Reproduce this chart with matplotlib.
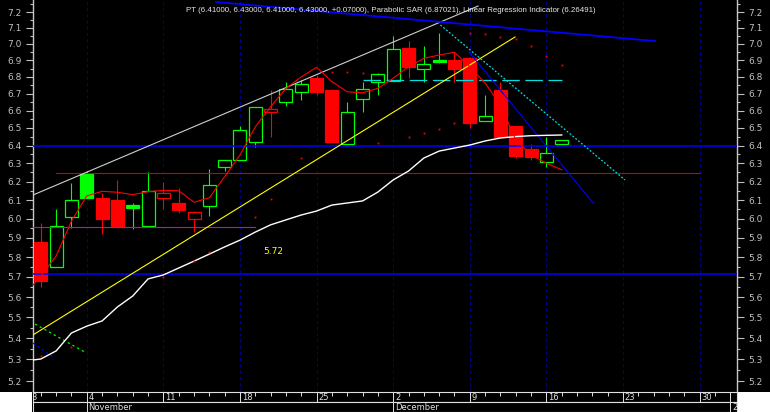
import numpy as np
import matplotlib
matplotlib.use("Agg")
import matplotlib.pyplot as plt
from matplotlib.patches import Rectangle
from matplotlib.ticker import FixedLocator, FixedFormatter, NullFormatter

# ---------------- data ----------------
opens = [5.88, 5.75, 6.01, 6.24, 6.11, 6.10, 6.075, 5.96, 6.11, 6.085, 6.00, 6.07,
         6.28, 6.32, 6.42, 6.59, 6.65, 6.71, 6.79, 6.72, 6.41, 6.67, 6.77, 6.775,
         6.975, 6.845, 6.90, 6.90, 6.915, 6.54, 6.72, 6.51, 6.38, 6.31, 6.41]
highs = [5.98, 6.05, 6.19, 6.26, 6.14, 6.21, 6.085, 6.25, 6.20, 6.165, 6.04, 6.27,
         6.32, 6.51, 6.62, 6.72, 6.77, 6.78, 6.81, 6.72, 6.65, 6.77, 6.82, 7.05,
         7.02, 6.99, 7.07, 6.95, 6.92, 6.69, 6.77, 6.51, 6.41, 6.45, 6.43]
lows = [5.65, 5.75, 5.95, 6.11, 5.92, 5.96, 5.944, 5.96, 6.05, 6.03, 5.93, 6.015,
        6.26, 6.32, 6.39, 6.45, 6.63, 6.66, 6.69, 6.42, 6.41, 6.59, 6.69, 6.775,
        6.79, 6.77, 6.885, 6.77, 6.50, 6.54, 6.45, 6.33, 6.32, 6.28, 6.41]
closes = [5.68, 5.96, 6.10, 6.11, 6.00, 5.96, 6.055, 6.15, 6.14, 6.047, 6.035, 6.18,
          6.32, 6.49, 6.62, 6.61, 6.73, 6.755, 6.71, 6.42, 6.59, 6.73, 6.815, 6.97,
          6.86, 6.88, 6.89, 6.85, 6.53, 6.57, 6.45, 6.34, 6.335, 6.36, 6.43]

# Linear regression indicator (index -1 .. 34)
lri = [5.615, 5.705, 5.806, 5.988, 6.122, 6.147, 6.142, 6.129, 6.145, 6.152, 6.150,
       6.088, 6.112, 6.227, 6.347, 6.507, 6.623, 6.731, 6.800, 6.857, 6.771, 6.711,
       6.705, 6.731, 6.791, 6.861, 6.912, 6.932, 6.949, 6.861, 6.762, 6.633, 6.432,
       6.347, 6.301, 6.265]
# long moving average (index -1 .. 34)
mavg = [5.293, 5.302, 5.340, 5.425, 5.458, 5.483, 5.551, 5.605, 5.690, 5.710, 5.745,
        5.780, 5.816, 5.853, 5.888, 5.930, 5.968, 5.994, 6.020, 6.041, 6.073, 6.084,
        6.095, 6.143, 6.209, 6.258, 6.330, 6.369, 6.386, 6.403, 6.426, 6.443, 6.451,
        6.456, 6.458, 6.460]
# Parabolic SAR dots (visible ones, nan where hidden)
nan = np.nan
sar = [5.316, nan, 5.360, nan, nan, nan, nan, nan, 5.698, nan, 5.782, 5.827, nan, nan,
       6.007, 6.104, nan, 6.329, nan, 6.831, 6.831, 6.821, 6.413, nan, 6.448, 6.471,
       6.494, 6.529, 7.070, 7.062, 7.045, 7.029, 6.988, 6.926, 6.870]

# drawn study lines: (index, price) endpoints
white_trend = ([-0.51, 28.54], [6.127, 7.238])
yellow_trend = ([-0.51, 30.95], [5.416, 7.043])
blue_top = ([11.44, 40.09], [7.264, 7.018])
cyan_diag = ([26.08, 38.13], [7.118, 6.209])
blue_diag = ([27.95, 36.05], [6.950, 6.084])
green_dot = ([-0.38, 2.885], [5.468, 5.334])
blue_dot = ([-0.51, 0.796], [5.377, 5.311])
cyan_h = ([21.03, 34.02], [6.781, 6.781])
red_h = ([0.99, 43.03], [6.245, 6.245])
mag_h = ([-0.51, 13.98], [5.955, 5.955])
blue_levels = [6.40, 5.715]

week_idx = [3, 8, 13, 18, 23, 28, 33, 38, 43]
week_lab = ["4", "11", "18", "25", "2", "9", "16", "23", "30"]
month_idx = [3, 23, 45]
month_lab = ["November", "December", "20"]

title = ("PT (6.41000, 6.43000, 6.41000, 6.43000, +0.07000), Parabolic SAR (6.87021), "
         "Linear Regression Indicator (6.26491)")

# ---------------- figure ----------------
W, H = 770, 412
L, R = 33, 737
fig = plt.figure(figsize=(W / 100, H / 100), dpi=100, facecolor="black")
ax = fig.add_axes([L / W, 20 / H, (R - L) / W, 392 / H], facecolor="black")
xlim = (-0.51, 45.44)
ax.set_xlim(*xlim)
ax.set_yscale("log")
ax.set_ylim(5.150, 7.2766)

major = np.round(np.arange(5.2, 7.21, 0.1), 2)
minor = np.round(np.arange(5.25, 7.3, 0.1), 2)
ax.yaxis.set_major_locator(FixedLocator(major))
ax.yaxis.set_major_formatter(FixedFormatter([f"{v:.1f}" for v in major]))
ax.yaxis.set_minor_locator(FixedLocator(minor))
ax.yaxis.set_minor_formatter(NullFormatter())
ax.set_xticks([])
ax.tick_params(axis="y", which="both", left=True, right=True, labelleft=True,
               labelright=True, colors="#c0c0c0", labelsize=6.5, width=0.8)
ax.tick_params(axis="y", which="major", length=5, pad=3)
ax.tick_params(axis="y", which="minor", length=2.2)
for s in ["top", "bottom"]:
    ax.spines[s].set_visible(False)
for s in ["left", "right"]:
    ax.spines[s].set_color("#c8c8c8")
    ax.spines[s].set_linewidth(1.0)

for m in week_idx:
    ax.axvline(m, color="#00008c", lw=0.75, ls=(0, (3, 3)), zorder=0.5)

# candles
w = 0.85
for i in range(len(closes)):
    o, h, l, c = opens[i], highs[i], lows[i], closes[i]
    up_vs_prev = (c >= closes[i - 1]) if i > 0 else (c >= o)
    col = "#00ff00" if up_vs_prev else "#ff0000"
    filled = c < o
    ax.vlines(i, l, h, color=col, lw=0.8, zorder=2)
    lo, hi = min(o, c), max(o, c)
    ax.add_patch(Rectangle((i - w / 2, lo), w, hi - lo,
                           facecolor=col if filled else "black",
                           edgecolor=col, lw=0.9, zorder=3))

idx_ext = np.arange(-1, len(closes))
idx = np.arange(len(closes))

# horizontal study lines
for lv in blue_levels:
    ax.axhline(lv, color="#0000ff", lw=1.1, zorder=4)
ax.plot(*red_h, color="#d00000", lw=0.8, zorder=4)
ax.plot(*mag_h, color="#d000d0", lw=0.8, zorder=4)
ax.plot(*cyan_h, color="#00e0e0", lw=0.9, dashes=(14, 4.5), zorder=4)

# trend lines
ax.plot(*white_trend, color="#d0d0d0", lw=0.8, zorder=4)
ax.plot(*yellow_trend, color="#ffff00", lw=0.8, zorder=4)
ax.plot(*blue_top, color="#0000ff", lw=1.3, zorder=4)
ax.plot(*cyan_diag, color="#00e0e0", lw=0.9, dashes=(1.5, 1.5), zorder=4)
ax.plot(*blue_diag, color="#0000ff", lw=0.8, zorder=4)
ax.plot(*green_dot, color="#00ff00", lw=0.9, dashes=(1.8, 2.5), zorder=4)
ax.plot(*blue_dot, color="#0000ff", lw=0.9, dashes=(1.8, 2.5), zorder=4)

# indicators
ax.plot(idx_ext, mavg, color="white", lw=1.0, zorder=5)
ax.plot(idx_ext, lri, color="#ff0000", lw=0.8, zorder=5)
ax.plot(idx, sar, ls="none", marker="s", ms=1.3, mew=0, color="#ff0000", zorder=6)

ax.text(15.16, 5.827, "5.72", color="#ffff00", fontsize=6.5, ha="center",
        va="center", zorder=6)

ttl = fig.text(391 / W, 1 - 10 / H, title, ha="center", va="center", fontsize=6,
               color="#e8e8e8",
               family=["DejaVu Sans Condensed", "Liberation Sans", "DejaVu Sans"])
# fit the title to the width it takes in the reference (~413 px)
fig.canvas.draw()
tw = ttl.get_window_extent().width
ttl.set_fontsize(6 * 413 / tw)

# date rows
axd = fig.add_axes([L / W, 10 / H, (R - L) / W, 10 / H], facecolor="black")
axm = fig.add_axes([L / W, 0, (R - L) / W, 10 / H], facecolor="black")
for a in (axd, axm):
    a.set_xlim(*xlim)
    a.set_ylim(0, 1)
    a.set_xticks([])
    a.set_yticks([])
    for s in a.spines.values():
        s.set_color("#e0e0e0")
        s.set_linewidth(0.8)
axd.vlines(np.arange(-1, 46), 0.65, 1, color="#e0e0e0", lw=0.7)
axd.vlines(week_idx + [45], 0, 1, color="#e0e0e0", lw=0.7)
for m, lab in zip(week_idx, week_lab):
    axd.text(m + 0.12, 0.4, lab, fontsize=6, color="#e0e0e0", ha="left", va="center")
axd.text(-0.62, 0.4, "3", fontsize=6, color="#e0e0e0", ha="left", va="center",
         clip_on=True)
axm.vlines(month_idx, 0, 1, color="#e0e0e0", lw=0.7)
for m, lab in zip(month_idx, month_lab):
    axm.text(m + 0.12, 0.45, lab, fontsize=6, color="#e0e0e0", ha="left",
             va="center", clip_on=True)

fig.add_artist(Rectangle((0, 0), 32 / W, 20 / H, transform=fig.transFigure,
                         facecolor="white", edgecolor="none"))
fig.add_artist(Rectangle((738 / W, 0), 32 / W, 20 / H, transform=fig.transFigure,
                         facecolor="white", edgecolor="none"))

fig.savefig("out.png", dpi=100, facecolor="black")
